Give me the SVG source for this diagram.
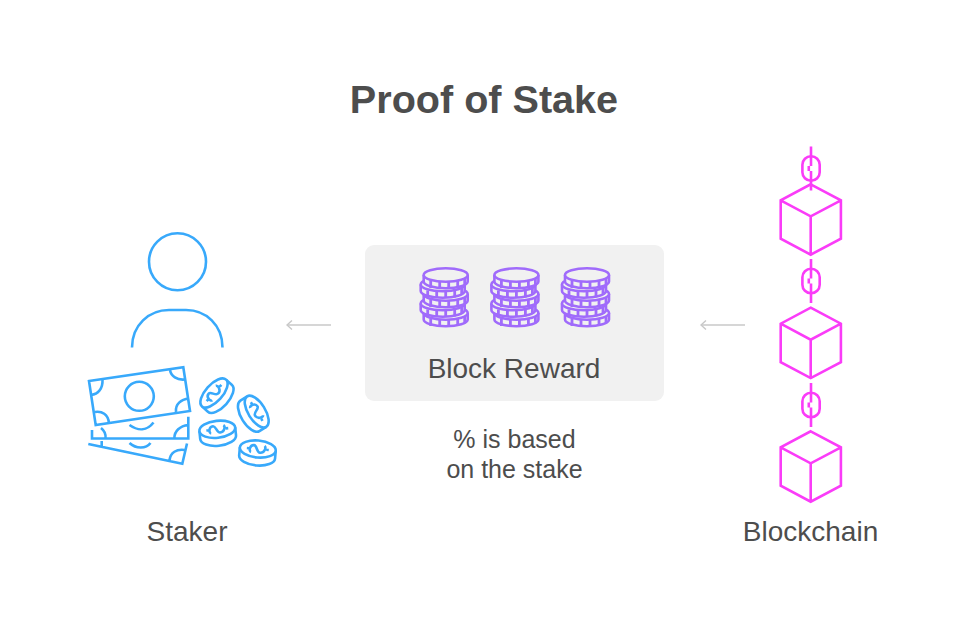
<svg xmlns="http://www.w3.org/2000/svg" xmlns:xlink="http://www.w3.org/1999/xlink" width="967" height="630" viewBox="0 0 967 630">
<style>
text{font-family:"Liberation Sans",Arial,sans-serif;fill:#4d4d4d;text-anchor:middle}
.title{font-size:39.6px;font-weight:700}
.lab{font-size:28px}
.note{font-size:25px}
.blue{fill:none;stroke:#38a9fb;stroke-width:2.6;stroke-linejoin:miter}
.bluef{fill:#fff;stroke:#38a9fb;stroke-width:2.6}
.purple{fill:#f1f1f1;stroke:#a06bfb;stroke-width:2.6}
.tick{fill:none;stroke:#a06bfb;stroke-width:2.8}
.pink{fill:none;stroke:#fa3cf8;stroke-width:2.6;stroke-linejoin:miter}
.conn{fill:none;stroke:#c8c8c8;stroke-width:1.4}
</style>
<defs>
<g id="coin">
<path class="purple" d="M-22 0v6.500a22 6.700 0 0 0 44 0V0"/>
<path class="tick" d="M-15 6v7M-6 7v6.500M3 7v6.500M12 6v7M19 3.500v7"/>
<ellipse class="purple" rx="22" ry="6.700"/>
</g>
<g id="stack">
<use xlink:href="#coin" href="#coin" x="0" y="38"/>
<use xlink:href="#coin" href="#coin" x="-3" y="28.500"/>
<use xlink:href="#coin" href="#coin" x="0" y="19"/>
<use xlink:href="#coin" href="#coin" x="-3" y="9.500"/>
<use xlink:href="#coin" href="#coin" x="0" y="0"/>
</g>
<g id="cube">
<path class="pink" d="M0 0L30.200 16V54.400L0 70.400L-30 54.400V16ZM-30 16L0 32L30.200 16M0 32V70.400"/>
</g>
<g id="link">
<rect class="pink" x="-8.600" y="-12.300" width="17.300" height="24.600" rx="8.600"/>
<path class="pink" d="M0 -22V-2.500M0 2.500V22M-2.200 -2.500V2.500"/>
</g>
<g id="dcoin">
<path class="bluef" d="M-18 0V8A18 8.500 0 0 0 18 8V0"/>
<ellipse class="bluef" rx="18" ry="8.500"/>
<path class="blue" d="M-6.500 3.500C-9 3 -8.500 -3.500 -4 -3.500C-1 -3.500 -1 3.500 2.500 3.500C7 3.500 8.500 -2 6.500 -3.500M-11 0H-8.500M8.500 0H11"/>
</g>
<marker id="ah" viewBox="0 0 8 10" refX="7" refY="5" markerWidth="8" markerHeight="10" markerUnits="userSpaceOnUse" orient="auto">
<path d="M2 .5L7 5L2 9.500" fill="none" stroke="#c8c8c8" stroke-width="1.400"/>
</marker>
</defs>
<text class="title" x="484" y="113">Proof of Stake</text>
<g id="connectors">
<path class="conn" d="M331 325H287" marker-end="url(#ah)"/>
<path class="conn" d="M745 325H701" marker-end="url(#ah)"/>
</g>
<g id="staker">
<circle class="blue" cx="177.500" cy="261.700" r="28.500"/>
<path class="blue" d="M132 347.500C132 325 149 310 169 310H186C206 310 222.500 325 222.500 347.500"/>
<path class="blue" d="M89 381L183.300 367.300L190 411L95.700 425Z"/>
<circle class="blue" cx="139.300" cy="396.300" r="14.500"/>
<path class="blue" d="M102.500 379C103 389 98 394 91 395M170 370C171 376 177 380.500 185 379.500M189 398.500C181 399.500 175 404 176 412M95 412C102 411 108 414 109 423"/>
<path class="blue" d="M92 430V438.500H188.300V416.700M174.300 438.500C174.300 431 180 426 188.300 425M101 428C105 431 106 434 105.500 438.500M129.500 425C138 431 147 431 153.500 422.500"/>
<path class="blue" d="M88.300 444L182.300 463.700L187 443.500M101.700 441V448M169.500 461C170 452 177 449 184.500 450M129.500 443C136 449 146 449 150.500 443"/>
<g transform="translate(214 393) rotate(-48)"><use xlink:href="#dcoin" href="#dcoin"/></g>
<g transform="translate(256.700 411.600) rotate(58)"><use xlink:href="#dcoin" href="#dcoin"/></g>
<g transform="translate(217.300 429.300) rotate(-6)"><use xlink:href="#dcoin" href="#dcoin"/></g>
<g transform="translate(257.800 449) rotate(5)"><use xlink:href="#dcoin" href="#dcoin"/></g>
<text class="lab" x="187" y="541">Staker</text>
</g>
<g id="block-reward">
<rect x="365" y="245" width="299" height="156" rx="9" fill="#f1f1f1"/>
<use xlink:href="#stack" href="#stack" x="445.700" y="275"/>
<use xlink:href="#stack" href="#stack" x="516.400" y="275"/>
<use xlink:href="#stack" href="#stack" x="587" y="275"/>
<text class="lab" x="514" y="378">Block Reward</text>
</g>
<g id="note">
<text class="note" x="514.500" y="448">% is based</text>
<text class="note" x="514.500" y="478">on the stake</text>
</g>
<g id="blockchain">
<use xlink:href="#link" href="#link" x="811" y="168.500"/>
<use xlink:href="#cube" href="#cube" x="810.700" y="184.300"/>
<use xlink:href="#link" href="#link" x="811" y="281"/>
<use xlink:href="#cube" href="#cube" x="810.700" y="307.700"/>
<use xlink:href="#link" href="#link" x="811" y="405"/>
<use xlink:href="#cube" href="#cube" x="810.700" y="431.300"/>
<text class="lab" x="810.500" y="541">Blockchain</text>
</g>
</svg>
